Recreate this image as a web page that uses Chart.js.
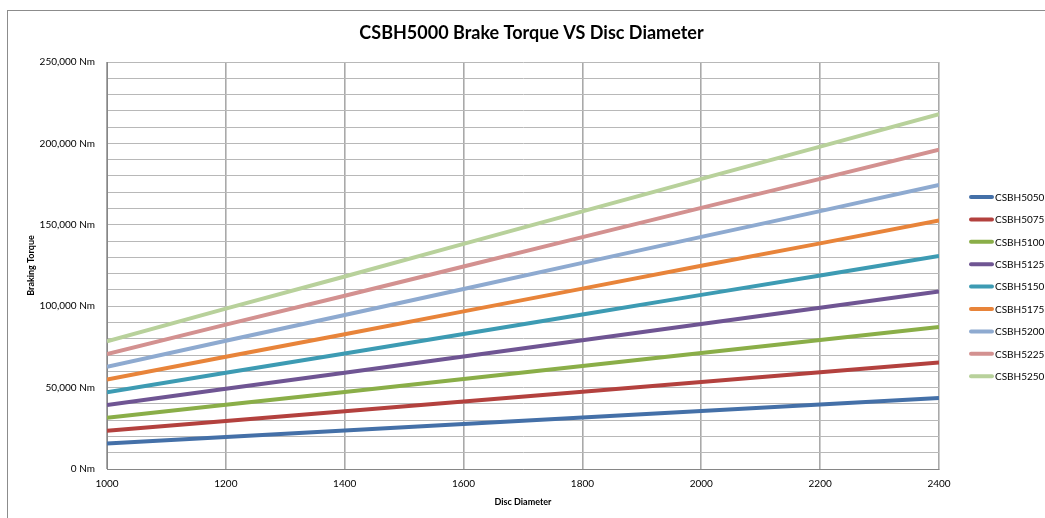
<!DOCTYPE html>
<html>
<head>
<meta charset="utf-8">
<script src="https://cdn.jsdelivr.net/npm/chart.js@4"></script>
<style>
  html, body { margin: 0; padding: 0; background: #fff; }
  #wrap { position: relative; width: 1045px; height: 518px; }
  #frame { position: absolute; left: 7px; top: 10px; width: 1100px; height: 600px; border-left: 1px solid #8c8c8c; border-top: 1px solid #8c8c8c; pointer-events: none; }
</style>
</head>
<body>
<div id="wrap">
  <canvas id="chart" width="1045" height="518"></canvas>
  <div id="frame"></div>
</div>
<script>
const diameters = [1000, 1200, 1400, 1600, 1800, 2000, 2200, 2400];
const models = ['CSBH5050', 'CSBH5075', 'CSBH5100', 'CSBH5125', 'CSBH5150', 'CSBH5175', 'CSBH5200', 'CSBH5225', 'CSBH5250'];
const colors = ['#4470a8', '#b3413e', '#8aae48', '#6f5593', '#3d9bb3', '#e8843a', '#8eaad0', '#d39190', '#b8d19b'];

const t5050 = [15700, 19700, 23650, 27650, 31650, 35650, 39600, 43600];
const t5075 = [23550, 29550, 35480, 41480, 47480, 53480, 59400, 65400];
const t5100 = [31400, 39400, 47300, 55300, 63300, 71300, 79200, 87200];
const t5125 = [39250, 49250, 59100, 69100, 79100, 89100, 99000, 109000];
const t5150 = [47100, 59100, 70950, 82950, 94950, 106950, 118800, 130800];
const t5175 = [54950, 68950, 82800, 96800, 110800, 124800, 138600, 152600];
const t5200 = [62800, 78800, 94600, 110600, 126600, 142600, 158400, 174400];
const t5225 = [70650, 88650, 106400, 124400, 142400, 160400, 178200, 196200];
const t5250 = [78500, 98500, 118250, 138250, 158250, 178250, 198000, 218000];
const torques = [t5050, t5075, t5100, t5125, t5150, t5175, t5200, t5225, t5250];

const TITLE = 'CSBH5000 Brake Torque VS Disc Diameter';
const FONT = 'Lato, "Open Sans", sans-serif';

// title and legend drawn by hand so they sit where the Excel ones do
const decor = {
  id: 'decor',
  afterDraw(chart) {
    const ctx = chart.ctx;
    ctx.save();
    ctx.fillStyle = '#000';
    ctx.textAlign = 'center';
    ctx.textBaseline = 'middle';
    ctx.font = 'bold 18px ' + FONT;
    ctx.fillText(TITLE, 531.5, 33);

    ctx.textAlign = 'left';
    ctx.font = '10px ' + FONT;
    ctx.lineCap = 'round';
    ctx.lineWidth = 4;
    chart.data.datasets.forEach((ds, i) => {
      const y = 197 + i * 22.4;
      ctx.strokeStyle = ds.borderColor;
      ctx.beginPath(); ctx.moveTo(971, y); ctx.lineTo(992, y); ctx.stroke();
      ctx.fillText(ds.label, 995, y + 0.5);
    });
    ctx.restore();
  }
};

const datasets = models.map((m, i) => ({
  label: m,
  data: diameters.map((d, j) => ({ x: d, y: torques[i][j] })),
  borderColor: colors[i],
  backgroundColor: colors[i],
  borderWidth: 4,
  pointRadius: 0,
  tension: 0,
}));

new Chart(document.getElementById('chart').getContext('2d'), {
  type: 'line',
  data: { datasets },
  plugins: [decor],
  options: {
    responsive: false,
    animation: false,
    layout: { padding: { left: 0, right: 106, top: 62, bottom: 0 } },
    plugins: {
      legend: { display: false },
      tooltip: { enabled: false },
      title: { display: false },
    },
    scales: {
      x: {
        type: 'linear',
        min: 1000, max: 2400,
        ticks: { stepSize: 200, color: '#000', font: { family: FONT, size: 10 }, padding: 9, maxRotation: 0, callback: v => String(v) },
        grid: { color: '#a9a9a9', lineWidth: 1.6, drawTicks: false },
        border: { color: '#868686', width: 1 },
        title: { display: true, text: 'Disc Diameter', color: '#000', font: { family: FONT, size: 9, weight: 'bold' }, padding: { top: 0, bottom: 11 } },
        afterFit(s) { s.height = 49; },
      },
      y: {
        min: 0, max: 250000,
        ticks: {
          stepSize: 10000, autoSkip: false, color: '#000', font: { family: FONT, size: 10 }, padding: 12,
          callback: v => (v % 50000 === 0 ? v.toLocaleString('en-US') + ' Nm' : ''),
        },
        grid: { color: '#b8b8b8', lineWidth: 1, drawTicks: false },
        border: { color: '#868686', width: 1 },
        title: { display: true, text: 'Braking Torque', color: '#000', font: { family: FONT, size: 9, weight: 'bold' }, padding: { top: 25.5, bottom: 0 } },
        afterFit(s) { s.width = 107; },
      },
    },
  },
});
</script>
</body>
</html>
